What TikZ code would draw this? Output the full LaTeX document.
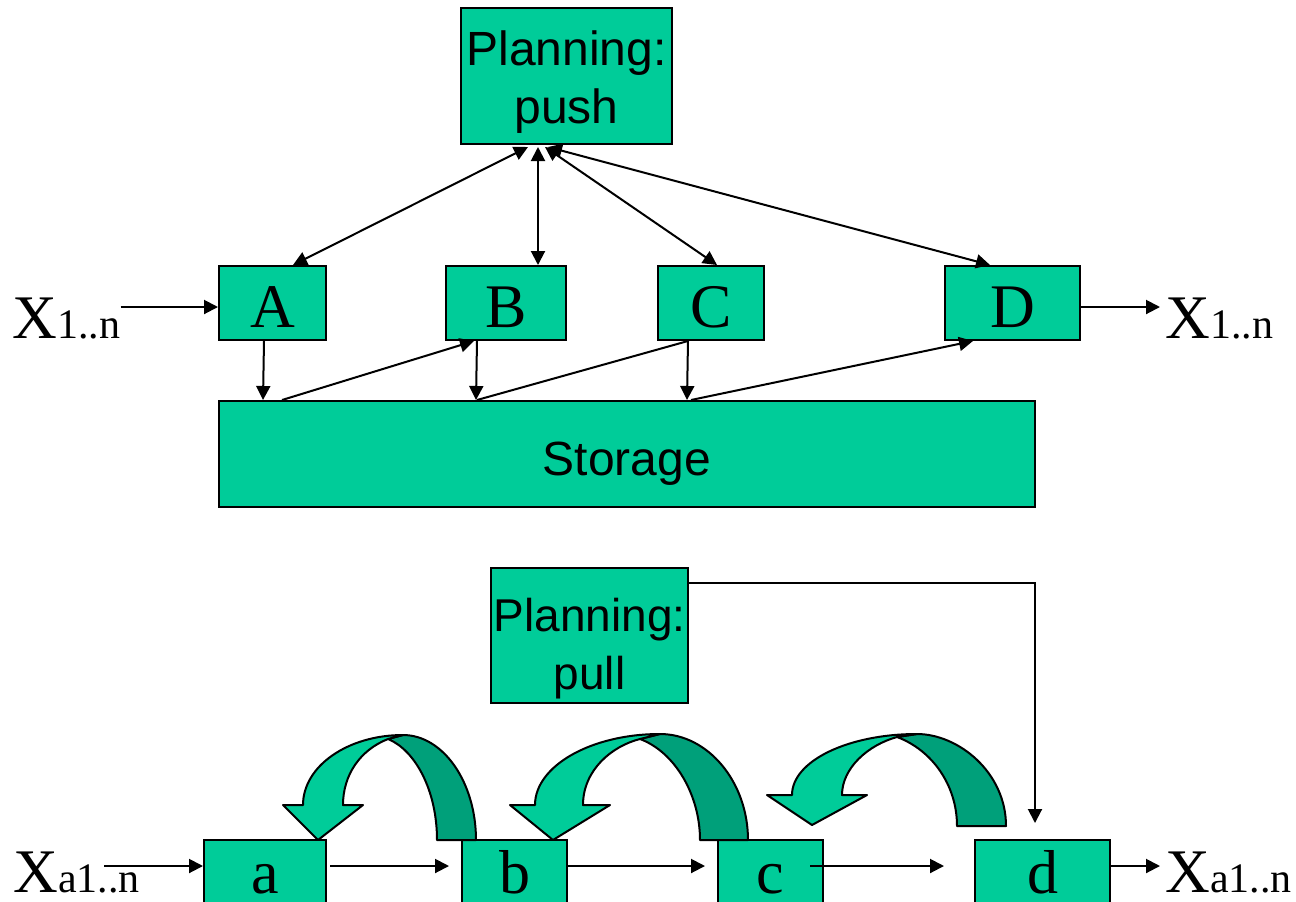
\documentclass[tikz,border=0pt]{standalone}
\usepackage{fontspec}
\setmainfont{Liberation Serif}
\newfontfamily\arialf{Liberation Sans}
\usetikzlibrary{arrows.meta,calc}
\definecolor{boxgreen}{RGB}{0,204,153}
\definecolor{darkgreen}{RGB}{0,160,122}
\newcommand\Xbigf{\fontsize{31}{31}\selectfont}
\newcommand\Xsubf{\fontsize{21}{21}\selectfont}
\begin{document}
\begin{tikzpicture}[x=0.5pt,y=-0.5pt,
 box/.style={draw=black,line width=1pt,fill=boxgreen,inner sep=0pt},
 letterbox/.style={box,font=\fontsize{31}{31}\selectfont,text height=24pt,text depth=0pt,minimum height=37pt},
 lowbox/.style={box,font=\fontsize{31}{31}\selectfont,text height=21.5pt,text depth=0pt,minimum height=31.5pt},
 planbox/.style={box,font=\arialf\fontsize{24}{29}\selectfont,align=center},
 arr/.style={line width=1pt,-{Triangle[length=7pt,width=7pt]}},
 darr/.style={line width=1pt,{Triangle[length=7pt,width=7pt]}-{Triangle[length=7pt,width=7pt]}},
 plainline/.style={line width=1pt},
 xlab/.style={inner sep=0pt,anchor=base west},
 uarrow/.style={draw=black,line width=1pt,line join=round}
]
\useasboundingbox (0,0) rectangle (1296,901);
\clip (0,0) rectangle (1296,901);

% nodes
\node[planbox,minimum width=105.5pt,minimum height=68pt] (push) at (566.5,76) {\rule{0pt}{23pt}Planning:\\push};
\node[letterbox,minimum width=53.5pt] (A) at (272.5,303) {A};
\node[letterbox,minimum width=60pt] (B) at (506,303) {B};
\node[letterbox,minimum width=53pt] (C) at (711,303) {C};
\node[letterbox,minimum width=67.5pt] (D) at (1012.5,303) {D};
\node[box,font=\arialf\fontsize{24}{29}\selectfont,text height=21pt,text depth=0pt,minimum width=408pt,minimum height=53pt] (S) at (627,454) {Storage};
\node[planbox,font=\arialf\fontsize{23}{29}\selectfont,minimum width=98.5pt,minimum height=67.5pt] (pull) at (589.5,635.5) {\rule{0pt}{30pt}Planning:\\pull};
\node[lowbox,minimum width=61pt] (a) at (265,871.5) {a};
\node[lowbox,minimum width=52.5pt] (b) at (514.5,871.5) {b};
\node[lowbox,minimum width=52.5pt] (c) at (770.5,871.5) {c};
\node[lowbox,minimum width=67.5pt] (d) at (1042.5,871.5) {d};

\node[xlab] (x1) at (12,338) {{\Xbigf X}{\Xsubf 1..n}};
\node[xlab] (x2) at (1165,338) {{\Xbigf X}{\Xsubf 1..n}};
\node[xlab] (x3) at (13,892) {{\Xbigf X}{\Xsubf a1..n}};
\node[xlab] (x4) at (1165,892) {{\Xbigf X}{\Xsubf a1..n}};

% top connectors
\draw[arr] ($(x1.east |- A.west)+(0,4)$) -- ($(A.west)+(0,4)$);
\draw[arr] ($(D.east)+(0,4)$) -- ($(x2.west |- D.east)+(-5,4)$);

\draw[darr] ($(push.south)+(-38.5,2)$) -- ($(A.north)+(20.5,0)$);
\draw[darr] ($(push.south)+(-28.5,2)$) -- ($(B.north)+(32,0)$);
\draw[darr] ($(push.south)+(-21.5,2)$) -- ($(C.north)+(6,0)$);
\draw[darr] ($(push.south)+(-18.5,2)$) -- ($(D.north)+(-22.5,0)$);

\draw[arr] ($(A.south)+(-8.5,0)$) -- ($(S.north west)+(45,0)$);
\draw[arr] ($(S.north west)+(64,0)$) -- ($(B.south)+(-32,0)$);
\draw[arr] ($(B.south)+(-29,0)$) -- ($(S.north west)+(258,0)$);
\draw[plainline] ($(S.north west)+(259,0)$) -- ($(C.south)+(-23,0)$);
\draw[arr] ($(C.south)+(-23,0)$) -- ($(S.north west)+(469,0)$);
\draw[arr] ($(S.north west)+(473,0)$) -- ($(D.south)+(-39.5,0)$);

% bottom connectors
\draw[arr] ($(a.west)+(-99,-5.5)$) -- ($(a.west)+(0,-5.5)$);
\draw[arr] ($(a.east)+(3,-5.5)$) -- ($(b.west)+(-12,-5.5)$);
\draw[arr] ($(b.east)+(0,-5.5)$) -- ($(c.west)+(-12,-5.5)$);
\draw[arr] ($(c.east)+(-14,-5.5)$) -- ($(d.west)+(-30,-5.5)$);
\draw[arr] ($(d.east)+(0,-5.5)$) -- ($(x4.west |- d.east)+(-5,-5.5)$);
\draw[arr] ($(pull.north east)+(0,16)$) -| ($(d.north)+(-7.5,-16)$);

% U-turn block arrows
% arrow 1 (b -> a)
\filldraw[uarrow,fill=darkgreen] (403,735) .. controls (443,735) and (476,782) .. (476,840) -- (437,840) .. controls (437,790) and (415,750) .. (388,739) -- cycle;
\filldraw[uarrow,fill=boxgreen] (303,805) .. controls (303,766) and (348,735) .. (403,735) -- (388,739) .. controls (360,750) and (343,775) .. (343,805) -- (363,805) -- (318,840) -- (283,805) -- cycle;
% arrow 2 (c -> b)
\filldraw[uarrow,fill=darkgreen] (660,734) .. controls (708,734) and (748,782) .. (748,840) -- (700,840) .. controls (700,795) and (675,752) .. (640,739) -- cycle;
\filldraw[uarrow,fill=boxgreen] (535,805) .. controls (535,766) and (591,734) .. (660,734) -- (640,739) .. controls (612,746) and (583,770) .. (583,805) -- (610,805) -- (553,840) -- (510,805) -- cycle;
% arrow 3 (d -> c)
\filldraw[uarrow,fill=darkgreen] (917,734) .. controls (958,734) and (1006,772) .. (1006,826) -- (957,826) .. controls (957,785) and (932,750) .. (897,737) -- cycle;
\filldraw[uarrow,fill=boxgreen] (792,795) .. controls (792,761) and (848,734) .. (917,734) -- (897,737) .. controls (868,745) and (842,768) .. (842,795) -- (867,795) -- (812,825) -- (767,795) -- cycle;
\end{tikzpicture}
\end{document}
